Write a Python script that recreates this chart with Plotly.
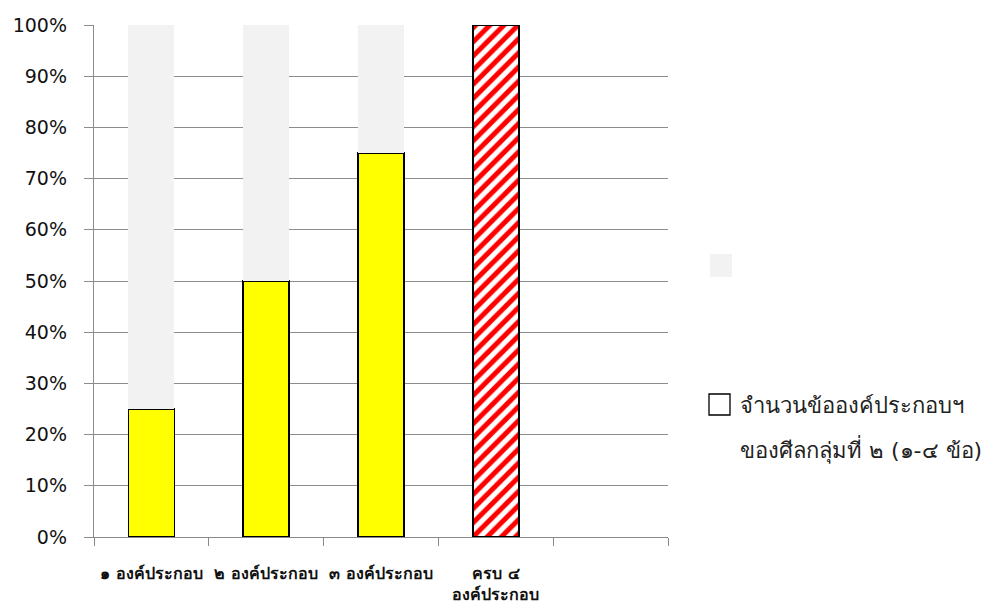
import plotly.graph_objects as go

categories = ["๑ องค์ประกอบ", "๒ องค์ประกอบ", "๓ องค์ประกอบ", "ครบ ๔<br>องค์ประกอบ", " "]
counted = [0.25, 0.50, 0.75, 1.00]
remainder = [0.75, 0.50, 0.25, 0.00]
ytick_vals = [0, 0.1, 0.2, 0.3, 0.4, 0.5, 0.6, 0.7, 0.8, 0.9, 1.0]
ytick_text = ["0%", "10%", "20%", "30%", "40%", "50%", "60%", "70%", "80%", "90%", "100%"]
legend_lines = ["จำนวนข้อองค์ประกอบฯ", "ของศีลกลุ่มที่ ๒ (๑-๔ ข้อ)"]

x_bars = categories[:4]
partial_x = [c for c, v in zip(x_bars, counted) if v < 1.0]
partial_y = [v for v in counted if v < 1.0]
full_x = [c for c, v in zip(x_bars, counted) if v >= 1.0]
full_y = [v for v in counted if v >= 1.0]

# page body has an 8px default margin; compensate so the plot sits where the reference has it
OFF = 8
W, H = 997 - OFF, 614 - OFF
L, T, PW, PH = 94 - OFF, 25 - OFF, 574, 512


def px(xv):
    return (xv - OFF - L) / PW


def py(yv):
    return (T + PH - (yv - OFF)) / PH


fig = go.Figure()
fig.add_trace(go.Bar(
    x=partial_x, y=partial_y, name=" ".join(legend_lines),
    marker=dict(color="#FFFF00", line=dict(color="black", width=1.5)),
    showlegend=False,
))
fig.add_trace(go.Bar(
    x=full_x, y=full_y, name=" ".join(legend_lines),
    marker=dict(
        color="#FFFFFF",
        line=dict(color="black", width=1.5),
        pattern=dict(shape="/", fillmode="overlay", fgcolor="#FF0000",
                     fgopacity=1, size=10, solidity=0.5),
    ),
    showlegend=False,
))
fig.add_trace(go.Bar(
    x=x_bars, y=remainder, name=" ",
    marker=dict(color="#F2F2F2", line=dict(width=0)),
    showlegend=False,
))

fig.update_layout(
    barmode="stack", bargap=0.6,
    width=W, height=H,
    margin=dict(l=L, r=W - L - PW, t=T, b=H - T - PH, autoexpand=False),
    plot_bgcolor="white", paper_bgcolor="white",
    font=dict(family="Tahoma, DejaVu Sans, Noto Sans, sans-serif", color="#111111"),
)
fig.update_xaxes(
    type="category", categoryorder="array", categoryarray=categories,
    tickson="boundaries", ticks="outside", ticklen=8, tickcolor="#888888", tickwidth=1.3,
    showline=True, linecolor="#888888", linewidth=1.3, showgrid=False,
    tickfont=dict(size=16, color="#111111", weight="bold"),
    ticklabelstandoff=22,
    range=[-0.5, 4.5],
)
fig.update_yaxes(
    range=[0, 1.0], tickvals=ytick_vals, ticktext=ytick_text,
    showgrid=True, gridcolor="#8c8c8c", gridwidth=1.4,
    ticks="outside", ticklen=9, tickcolor="#8c8c8c", tickwidth=1.4,
    showline=True, linecolor="#8c8c8c", linewidth=1.4,
    tickfont=dict(size=19, color="#111111"), zeroline=False,
    ticklabelstandoff=13,
)

# manual legend
fig.add_shape(type="rect", xref="paper", yref="paper",
              x0=px(710), x1=px(732), y0=py(277), y1=py(254),
              fillcolor="#F2F2F2", line=dict(width=0))
fig.add_shape(type="rect", xref="paper", yref="paper",
              x0=px(709), x1=px(730), y0=py(415), y1=py(394),
              fillcolor="white", line=dict(color="black", width=1.3))
for line_text, yc in zip(legend_lines, [405, 449]):
    fig.add_annotation(xref="paper", yref="paper", x=px(738), y=py(yc),
                       text=line_text, showarrow=False, xanchor="left", yanchor="middle",
                       align="left", font=dict(size=22, color="#222222"))

fig.write_html("out.html")
